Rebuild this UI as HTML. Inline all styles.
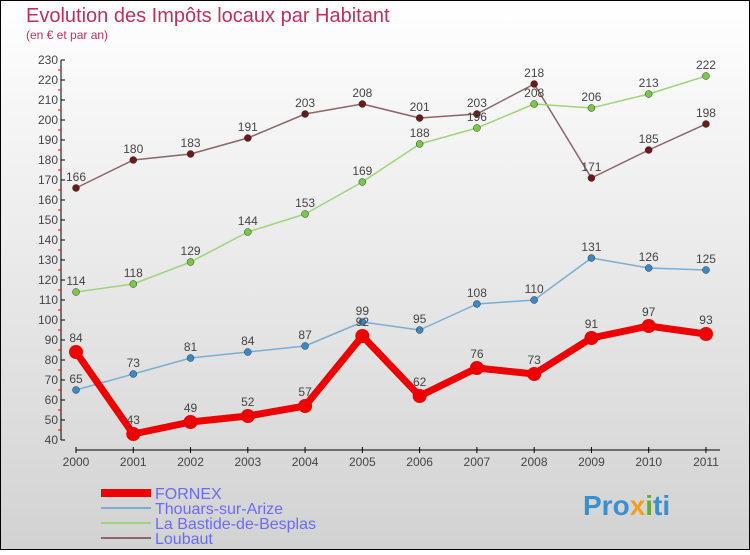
<!DOCTYPE html>
<html><head><meta charset="utf-8"><style>
html,body{margin:0;padding:0}
body{width:750px;height:550px;overflow:hidden;font-family:"Liberation Sans",sans-serif}
</style></head><body>
<svg width="750" height="550" xmlns="http://www.w3.org/2000/svg">
<defs><linearGradient id="bg" x1="0" y1="0" x2="0" y2="1"><stop offset="0" stop-color="#ffffff"/><stop offset="1" stop-color="#d2d2d2"/></linearGradient></defs>
<rect x="0.5" y="0.5" width="749" height="549" fill="url(#bg)" stroke="#000"/>
<text x="26" y="22" font-size="20" fill="#c0305a">Evolution des Impôts locaux par Habitant</text>
<text x="26" y="39" font-size="12" fill="#c0305a">(en € et par an)</text>
<g id="axes"></g>
<g id="series"></g>
<g id="legend">
<line x1="101" y1="493" x2="151" y2="493" stroke="#e00" stroke-width="8"/>
<text x="155" y="499" font-size="16" fill="#6a6aff">FORNEX</text>
<line x1="101" y1="508" x2="151" y2="508" stroke="#7aaed0" stroke-width="2"/>
<text x="155" y="514" font-size="16" fill="#6a6aff">Thouars-sur-Arize</text>
<line x1="101" y1="523" x2="151" y2="523" stroke="#9fd47a" stroke-width="2"/>
<text x="155" y="529" font-size="16" fill="#6a6aff">La Bastide-de-Besplas</text>
<line x1="101" y1="538" x2="151" y2="538" stroke="#8e6464" stroke-width="2"/>
<text x="155" y="544" font-size="16" fill="#6a6aff">Loubaut</text>
</g>
<text x="583" y="515" font-size="28" font-weight="bold" fill="#3a8fd0">Pro<tspan fill="#f0a020">x</tspan><tspan fill="#60b030">i</tspan>ti</text>
</svg>
<script>
const years=[2000,2001,2002,2003,2004,2005,2006,2007,2008,2009,2010,2011];
const yTicks=[40,50,60,70,80,90,100,110,120,130,140,150,160,170,180,190,200,210,220,230];
const fornex=[84,43,49,52,57,92,62,76,73,91,97,93];
const thouars=[65,73,81,84,87,99,95,108,110,131,126,125];
const bastide=[114,118,129,144,153,169,188,196,208,206,213,222];
const loubaut=[166,180,183,191,203,208,201,203,218,171,185,198];
const NS="http://www.w3.org/2000/svg";
function X(i){return 76+i*57.27;}
function Y(v){return 440-(v-40)*2;}
function mk(tag,attrs,parent,text){const e=document.createElementNS(NS,tag);for(const k in attrs)e.setAttribute(k,attrs[k]);if(text!==undefined)e.textContent=text;parent.appendChild(e);return e;}
const ax=document.getElementById('axes');
let yl=mk('line',{x1:61,y1:Y(230),x2:61,y2:Y(40),stroke:'#000','stroke-width':1},ax);


let xl=mk('line',{x1:76,y1:450,x2:720,y2:450,stroke:'#000','stroke-width':1},ax);


yTicks.forEach(v=>{
 mk('line',{x1:61,y1:Y(v),x2:65,y2:Y(v),stroke:'#000'},ax);
 if(v<230) mk('line',{x1:58,y1:Y(v+5),x2:61,y2:Y(v+5),stroke:'#e00'},ax);
 const t=mk('text',{x:58,y:Y(v)+4,'font-size':12,'text-anchor':'end',fill:'#444'},ax,v);
 
 
});
years.forEach((yr,i)=>{
 mk('line',{x1:X(i),y1:447,x2:X(i),y2:453,stroke:'#000'},ax);
 const t=mk('text',{x:X(i),y:466,'font-size':12,'text-anchor':'middle',fill:'#444'},ax,yr);
 
 
});
const sg=document.getElementById('series');
function series(data,color,dot,w,r,name){
 const g=mk('g',{},sg);
 
 
 const pl=mk('polyline',{points:data.map((v,i)=>X(i)+','+Y(v)).join(' '),fill:'none',stroke:color,'stroke-width':w,'stroke-linejoin':'round'},g);
 
 
 data.forEach((v,i)=>{
  const c=mk('circle',{cx:X(i),cy:Y(v),r:r,fill:dot,stroke:w>3?'none':'#333','stroke-width':0.5},g);
  
  
  const t=mk('text',{x:X(i),y:Y(v)-(w>3?10:7),'font-size':12,'text-anchor':'middle',fill:'#444'},g,v);
  
  
 });
}
series(loubaut,'#8e6464','#6a1a1a',1.5,3.5,'loubaut');
series(bastide,'#9fd47a','#7ac848',1.5,3.5,'bastide');
series(thouars,'#7aaed0','#3a88c8',1.5,3.5,'thouars');
series(fornex,'#ee0000','#ee0000',7,7,'fornex');
</script>
</body></html>
